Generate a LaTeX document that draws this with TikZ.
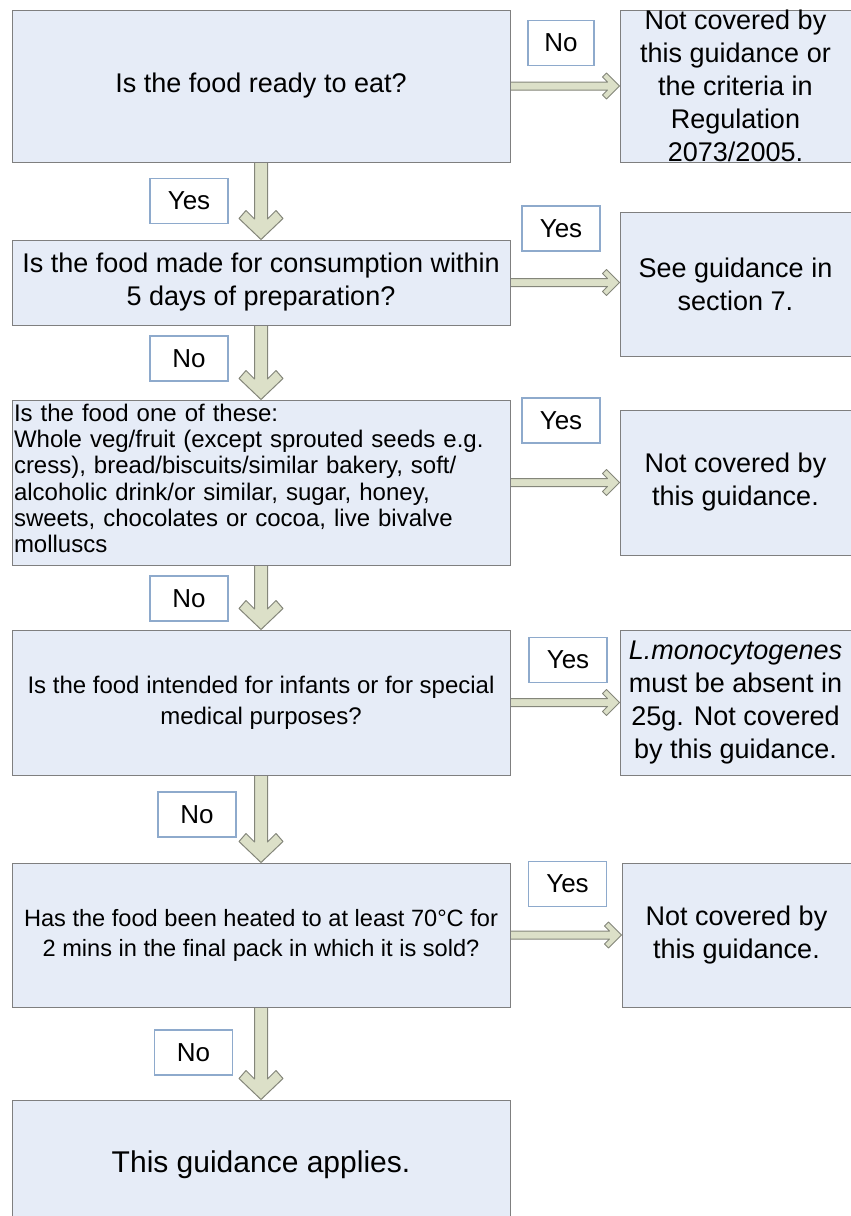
\documentclass[tikz,border=0pt]{standalone}
\usepackage{fontspec}
\setmainfont{Liberation Sans}
\usetikzlibrary{calc}
\definecolor{boxfill}{HTML}{E6ECF7}
\definecolor{boxline}{HTML}{7F7F7F}
\definecolor{tagline}{HTML}{8EAACC}
\definecolor{arrowfill}{HTML}{DCE0C8}
\definecolor{arrowline}{HTML}{84867A}
% block arrow going down from #1 to #2
\newcommand{\flowdown}[2]{%
  \draw[flowarrow] ($(#1.south)+(-6.5,0.5)$) -- ($(#2.north)+(-6.5,-20.5)$) -- ($(#2.north)+(-15,-29)$)
     -- ($(#2.north)+(-22,-21)$) -- (#2.north) -- ($(#2.north)+(22,-21)$) -- ($(#2.north)+(15,-29)$)
     -- ($(#2.north)+(6.5,-20.5)$) -- ($(#1.south)+(6.5,0.5)$);}
% block arrow going right from #1 to #2
\newcommand{\flowright}[2]{%
  \draw[flowarrow] ($(#1.east)+(0.5,-4)$) -- ($(#1.east -| #2.west)+(-12,-4)$) -- ($(#1.east -| #2.west)+(-17,-9)$)
     -- ($(#1.east -| #2.west)+(-13,-13)$) -- (#1.east -| #2.west) -- ($(#1.east -| #2.west)+(-13,13)$)
     -- ($(#1.east -| #2.west)+(-17,9)$) -- ($(#1.east -| #2.west)+(-12,4)$) -- ($(#1.east)+(0.5,4)$);}
\begin{document}
\begin{tikzpicture}[x=1pt,y=-1pt,
    question/.style ={rectangle, draw=boxline, fill=boxfill, line width=1pt, inner sep=0pt,
                      minimum width=498pt, align=center, font=\fontsize{27}{33}\selectfont},
    outcome/.style  ={question, minimum width=231pt, minimum height=145pt, font=\fontsize{27}{33}\selectfont},
    answer/.style   ={rectangle, draw=tagline, fill=white, line width=1.3pt, inner sep=0pt,
                      minimum width=78pt, minimum height=45pt, font=\fontsize{26}{28}\selectfont},
    flowarrow/.style={draw=arrowline, fill=arrowfill, line width=1pt, line join=round}]
   \useasboundingbox (0,0) rectangle (851,1216);
   \node[question, minimum height=152pt] (q1) at (261,86)  {Is the food ready to eat?};
   \node[question, minimum height=85pt]  (q2) at (261,282.5) {Is the food made for consumption within\\5 days of preparation?};
   \node[question, minimum height=165pt, text width=494pt, align=left, font=\fontsize{24}{26.3}\selectfont] (q3) at (261,482.5)
        {Is the food one of these:\\Whole veg/fruit (except sprouted seeds e.g.\\cress), bread/biscuits/similar bakery, soft/\\alcoholic drink/or similar, sugar, honey,\\sweets, chocolates or cocoa, live bivalve\\molluscs\vspace{8pt}};
   \node[question, minimum height=145pt, font=\fontsize{24}{31}\selectfont] (q4) at (261,702.5) {Is the food intended for infants or for special\\medical purposes?};
   \node[question, minimum height=144pt, font=\fontsize{23.6}{30}\selectfont] (q5) at (261,935) {Has the food been heated to at least 70\textdegree C for\\2 mins in the final pack in which it is sold?};
   \node[question, minimum height=130pt, font=\fontsize{30}{36}\selectfont] (end) at (261,1165) {This guidance applies.};
   \node[outcome, minimum height=152pt] (r1) at (735.5,86) {Not covered by\\this guidance or\\the criteria in\\Regulation\\2073/2005.};
   \node[outcome, minimum height=144pt] (r2) at (735.5,284) {See guidance in\\section 7.};
   \node[outcome] (r3) at (735.5,482.5) {Not covered by\\this guidance.};
   \node[outcome] (r4) at (735.5,702.5) {\textit{L.monocytogenes}\\must be absent in\\25g. Not covered\\by this guidance.};
   \node[outcome, minimum width=229pt, minimum height=144pt] (r5) at (736.5,935) {Not covered by\\this guidance.};
   \node[answer, minimum width=66pt] (no1) at (561,43) {No};
   \node[answer] (yes1) at (189,201)    {Yes};
   \node[answer] (yes2) at (561,228.5)  {Yes};
   \node[answer] (no2)  at (189,358.5)  {No};
   \node[answer] (yes3) at (561,420.5)  {Yes};
   \node[answer] (no3)  at (189,598.5)  {No};
   \node[answer] (yes4) at (568,660)    {Yes};
   \node[answer] (no4)  at (197,814.5)  {No};
   \node[answer] (yes5) at (567.5,884)  {Yes};
   \node[answer] (no5)  at (193.5,1052.5) {No};
   \flowright{q1}{r1}
   \flowright{q2}{r2}
   \flowright{q3}{r3}
   \flowright{q4}{r4}
   \flowright{q5}{r5}
   \flowdown{q1}{q2}
   \flowdown{q2}{q3}
   \flowdown{q3}{q4}
   \flowdown{q4}{q5}
   \flowdown{q5}{end}
\end{tikzpicture}
\end{document}
